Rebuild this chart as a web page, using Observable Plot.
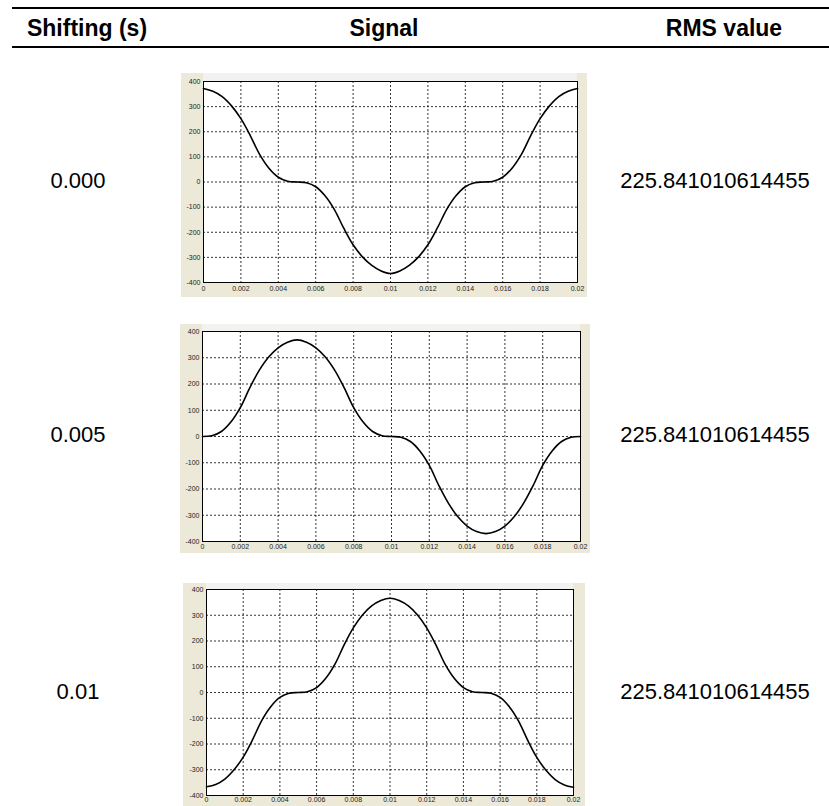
<!DOCTYPE html>
<html>
<head>
<meta charset="utf-8">
<script src="https://cdn.jsdelivr.net/npm/d3@7"></script>
<script src="https://cdn.jsdelivr.net/npm/@observablehq/plot@0.6"></script>
<style>
  html, body { margin: 0; padding: 0; background: #ffffff; }
  body { width: 829px; height: 806px; position: relative; overflow: hidden; font-family: "Liberation Sans", Arial, sans-serif; color: #000; }
  .rule { position: absolute; left: 12px; right: 0; height: 2px; background: #000; }
  .txt { position: absolute; transform: translate(-50%, -50%); white-space: nowrap; font-size: 22px; line-height: 1; }
  .hdr { font-weight: bold; font-size: 23px; }
  .panel { position: absolute; }
  .panel svg { display: block; }
</style>
</head>
<body>
<div id="root"></div>
<script>
// ---------- table text ----------
const headers = ["Shifting (s)", "Signal", "RMS value"];
const shifts = ["0.000", "0.005", "0.01"];
const rmsValues = ["225.841010614455", "225.841010614455", "225.841010614455"];

// ---------- signal data ----------
const times = [0, 0.0005, 0.001, 0.0015, 0.002, 0.0025, 0.003, 0.0035, 0.004, 0.0045,
  0.005, 0.0055, 0.006, 0.0065, 0.007, 0.0075, 0.008, 0.0085, 0.009, 0.0095,
  0.01, 0.0105, 0.011, 0.0115, 0.012, 0.0125, 0.013, 0.0135, 0.014, 0.0145,
  0.015, 0.0155, 0.016, 0.0165, 0.017, 0.0175, 0.018, 0.0185, 0.019, 0.0195, 0.02];

const signalShift0 = [372, 361, 340, 303, 252, 185, 110, 55, 19, 3,
  0, -3, -19, -55, -110, -184, -250, -298, -332, -354,
  -364, -354, -332, -298, -250, -184, -110, -55, -19, -3,
  0, 3, 19, 55, 110, 185, 252, 303, 340, 361, 372];

const signalShift005 = [0, 3, 19, 55, 110, 185, 252, 303, 338, 359,
  368, 359, 338, 303, 252, 185, 110, 55, 19, 3,
  0, -3, -19, -55, -110, -186, -253, -305, -341, -362,
  -370, -362, -341, -305, -253, -186, -110, -55, -19, -3, 0];

const signalShift01 = [-366, -357, -336, -300, -251, -185, -110, -55, -19, -3,
  0, 3, 19, 55, 110, 185, 251, 301, 336, 357,
  366, 357, 336, 301, 251, 185, 110, 55, 19, 3,
  0, -3, -19, -55, -110, -185, -252, -302, -338, -359, -368];

// ---------- axis ticks ----------
const xTicks = [0, 0.002, 0.004, 0.006, 0.008, 0.01, 0.012, 0.014, 0.016, 0.018, 0.02];
const xTickLabels = ["0", "0.002", "0.004", "0.006", "0.008", "0.01", "0.012", "0.014", "0.016", "0.018", "0.02"];
const yTicks = [-400, -300, -200, -100, 0, 100, 200, 300, 400];
const yTickLabels = ["-400", "-300", "-200", "-100", "0", "100", "200", "300", "400"];

// ---------- layout ----------
const root = document.getElementById("root");
function addEl(cls, text, x, y) {
  const d = document.createElement("div");
  d.className = cls;
  d.textContent = text;
  d.style.left = x + "px";
  d.style.top = y + "px";
  root.appendChild(d);
  return d;
}
function addRule(y) {
  const d = document.createElement("div");
  d.className = "rule";
  d.style.top = y + "px";
  root.appendChild(d);
}
addRule(7);
addRule(46);
const headerX = [87, 384, 724];
headers.forEach((h, i) => addEl("txt hdr", h, headerX[i], 28));

const rowY = [181, 435, 692];
shifts.forEach((s, i) => addEl("txt", s, 78, rowY[i]));
rmsValues.forEach((s, i) => addEl("txt", s, 715, rowY[i]));

const panels = [
  {series: signalShift0, left: 181, top: 73, width: 406, height: 224, mL: 22, mR: 10, mT: 8, mB: 15, pad: 4},
  {series: signalShift005, left: 180, top: 324, width: 410, height: 229, mL: 22, mR: 10, mT: 7, mB: 12, pad: 3},
  {series: signalShift01, left: 183, top: 583, width: 402, height: 223, mL: 23, mR: 12, mT: 6, mB: 11, pad: 2}
];

function topStrip(index, scales, values, dim) {
  const r = document.createElementNS("http://www.w3.org/2000/svg", "rect");
  r.setAttribute("x", dim.marginLeft);
  r.setAttribute("y", 0);
  r.setAttribute("width", dim.width - dim.marginLeft - dim.marginRight);
  r.setAttribute("height", dim.marginTop);
  r.setAttribute("fill", "#f2f2f0");
  return r;
}

panels.forEach(p => {
  const data = times.map((t, i) => ({t, v: p.series[i]}));
  const chart = Plot.plot({
    width: p.width,
    height: p.height,
    marginLeft: p.mL,
    marginRight: p.mR,
    marginTop: p.mT,
    marginBottom: p.mB,
    style: {background: "#ece9d8", fontFamily: "'Liberation Sans', Arial, sans-serif", fontSize: "7px", color: "#222"},
    x: {domain: [0, 0.02], axis: null},
    y: {domain: [-400, 400], axis: null},
    marks: [
      topStrip,
      Plot.frame({fill: "white", stroke: null}),
      Plot.gridX(xTicks, {stroke: "#000", strokeOpacity: 1, strokeWidth: 0.8, strokeDasharray: "2,2"}),
      Plot.gridY(yTicks, {stroke: "#000", strokeOpacity: 1, strokeWidth: 0.8, strokeDasharray: "2,2"}),
      Plot.line(data, {x: "t", y: "v", curve: "catmull-rom", stroke: "#000", strokeWidth: 1.6}),
      Plot.frame({stroke: "#000", strokeWidth: 1}),
      Plot.axisX(xTicks, {label: null, tickSize: 0, tickPadding: p.pad, tickFormat: (d, i) => xTickLabels[i], fill: "#222"}),
      Plot.axisY(yTicks, {label: null, tickSize: 0, tickPadding: 3, tickFormat: (d, i) => yTickLabels[i], fill: "#222"})
    ]
  });
  const wrap = document.createElement("div");
  wrap.className = "panel";
  wrap.style.left = p.left + "px";
  wrap.style.top = p.top + "px";
  wrap.appendChild(chart);
  root.appendChild(wrap);
});
</script>
</body>
</html>
